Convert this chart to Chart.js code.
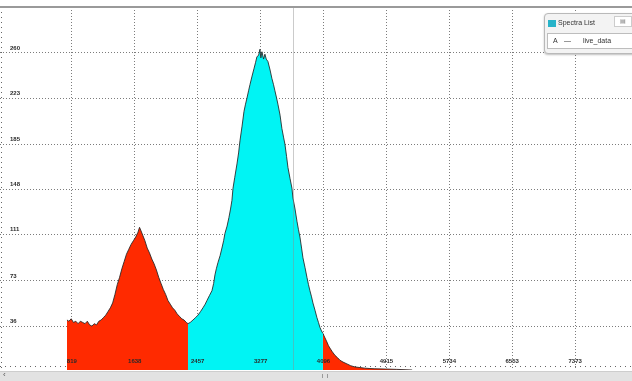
<!DOCTYPE html>
<html>
<head>
<meta charset="utf-8">
<script src="https://cdn.jsdelivr.net/npm/chart.js@4.4.1/dist/chart.umd.min.js"></script>
<style>
  html, body { margin: 0; padding: 0; background: #fff; }
  #wrap { position: relative; width: 632px; height: 381px; overflow: hidden; font-family: "Liberation Sans", Arial, sans-serif; }
  #chart { position: absolute; left: 0; top: 0; }
  .topline { position: absolute; left: 0; top: 6px; width: 632px; height: 2px; background: #9a9a9a; }
  .scroll { position: absolute; left: 0; top: 371px; width: 632px; height: 10px; background: #e2e2e2; border-top: 1px solid #cdcdcd; box-sizing: border-box; }
  .scroll .arrow { position: absolute; left: 3px; top: -2px; font-size: 8px; color: #555; }
  .scroll .notch { position: absolute; left: 322px; top: 2px; width: 4px; height: 4px; border-left: 1px solid #999; border-right: 1px solid #999; }
  .panel { position: absolute; left: 544px; top: 13px; width: 100px; height: 39px; background: #f3f3f3; border: 1px solid #b9b9b9; border-radius: 4px; box-shadow: 0 1px 2px rgba(0,0,0,0.25); }
  .panel .icon { position: absolute; left: 3px; top: 6px; width: 8px; height: 7px; background: #27b3c9; }
  .panel .title { position: absolute; left: 13px; top: 5px; font-size: 7px; color: #333; }
  .panel .btn { position: absolute; left: 69px; top: 2px; width: 16px; height: 9px; background: #fff; border: 1px solid #ccc; font-size: 6px; color: #777; text-align: center; line-height: 9px; }
  .panel .row { position: absolute; left: 2px; top: 19px; width: 96px; height: 14px; background: #fff; border: 1px solid #bdbdbd; font-size: 7px; color: #333; }
  .panel .row span { position: absolute; top: 3px; }
</style>
</head>
<body>
<div id="wrap">
  <canvas id="chart" width="632" height="381"></canvas>
  <div class="topline"></div>
  <div class="scroll"><span class="arrow">&#8249;</span><span class="notch"></span></div>
  <div class="panel">
    <div class="icon"></div>
    <div class="title">Spectra List</div>
    <div class="btn">&#9636;</div>
    <div class="row"><span style="left:5px">A</span><span style="left:16px">&#8212;</span><span style="left:35px">live_data</span></div>
  </div>
</div>
<script>
// spectrum (channel, counts)
const channels = [
  755, 780, 810, 840, 870, 900, 930, 960, 990, 1020, 1050, 1080, 1110, 1140, 1170,
  1200, 1230, 1260, 1290, 1320, 1350, 1380, 1410, 1440, 1470, 1500, 1530, 1560, 1590,
  1620, 1650, 1680, 1700, 1720, 1745, 1770, 1800, 1830, 1860, 1890, 1920, 1950, 1980,
  2010, 2040, 2070, 2100, 2130, 2160, 2190, 2220, 2250, 2280, 2310, 2331,
  2360, 2396, 2430, 2461, 2495, 2526, 2555, 2578, 2610, 2643, 2665, 2682, 2700, 2721,
  2750, 2773, 2795, 2812, 2840, 2864, 2885, 2903, 2917, 2940, 2969, 2990, 3008, 3035,
  3060, 3080, 3099, 3120, 3138, 3165, 3190, 3210, 3229, 3250, 3268, 3280, 3294, 3315,
  3333, 3350, 3372, 3400, 3424, 3445, 3463, 3485, 3502, 3530, 3554, 3575, 3594, 3615,
  3633, 3660, 3685, 3698, 3725, 3750, 3770, 3789, 3810, 3828, 3855, 3880, 3900, 3919,
  3940, 3958, 3985, 4010, 4030, 4049, 4070, 4088,
  4110, 4140, 4160, 4179, 4210, 4245, 4280, 4310, 4350, 4401, 4450, 4505, 4570, 4635,
  4700, 4765, 4900, 5050, 5250
];
const counts = [
  41, 40, 42, 39, 40, 38, 40, 39, 38, 40, 37, 36, 38, 37, 40,
  41, 43, 45, 48, 51, 55, 62, 70, 76, 83, 89, 95, 99, 103,
  106, 109, 113, 117, 114, 110, 106, 100, 96, 91, 87, 82, 76, 71,
  66, 62, 57, 54, 51, 49, 46, 44, 42, 41, 39, 38,
  39, 41, 43, 45, 48, 51, 54, 57, 61, 65, 71, 78, 83, 88,
  94, 100, 106, 112, 118, 125, 132, 139, 149, 158, 169, 178, 188, 200,
  212, 218, 223, 229, 234, 241, 247, 252, 257, 258, 263, 256, 261, 255,
  259, 255, 253, 246, 239, 234, 229, 223, 218, 209, 198, 191, 185, 175,
  166, 157, 149, 141, 132, 122, 115, 109, 100, 92, 84, 76, 70, 65,
  60, 55, 49, 43, 39, 35, 32, 30,
  27, 23, 20, 18, 15, 12, 10, 8, 6.5, 5, 3.5, 2.5, 2, 1.5,
  1.2, 1, 0.8, 0.5, 0
];
// region of interest borders (channels)
const roiStart = 2331;
const roiEnd = 4088;
const xTicks = [819, 1638, 2457, 3277, 4096, 4915, 5734, 6553, 7373];
const yTicks = [36, 73, 111, 148, 185, 223, 260];
const cursorChannel = 3698;

const points = channels.map((c, i) => ({ x: c, y: counts[i] }));
const left = points.filter(p => p.x <= roiStart);
const roi = points.filter(p => p.x >= roiStart && p.x <= roiEnd);
const right = points.filter(p => p.x >= roiEnd);

const outline = 'rgba(35,35,35,0.85)';
const mkSet = (data, color) => ({
  data: data,
  backgroundColor: color,
  borderColor: outline,
  borderWidth: 1,
  fill: 'origin',
  pointRadius: 0,
  tension: 0
});

const tickFont = { family: 'Liberation Sans', size: 6, weight: 'bold' };

// minor tick dots along the bottom and left edges, under the spectrum
const minorPlugin = {
  id: 'minor',
  beforeDatasetsDraw(chart) {
    const { ctx, chartArea } = chart;
    ctx.save();
    ctx.strokeStyle = '#666';
    ctx.lineWidth = 1;
    ctx.setLineDash([1, 4]);
    ctx.beginPath();
    ctx.moveTo(chartArea.left, chartArea.bottom - 3.5);
    ctx.lineTo(chartArea.right, chartArea.bottom - 3.5);
    ctx.moveTo(1.5, chartArea.top);
    ctx.lineTo(1.5, chartArea.bottom);
    ctx.stroke();
    ctx.restore();
  }
};

// cursor line and x labels drawn inside the plot, like the original viewer
const overlayPlugin = {
  id: 'overlay',
  afterDatasetsDraw(chart) {
    const { ctx, chartArea, scales } = chart;
    const px = Math.round(scales.x.getPixelForValue(cursorChannel)) + 0.5;
    ctx.save();
    ctx.strokeStyle = 'rgba(140,140,140,0.45)';
    ctx.lineWidth = 1;
    ctx.beginPath();
    ctx.moveTo(px, chartArea.top);
    ctx.lineTo(px, chartArea.bottom);
    ctx.stroke();
    ctx.font = `${tickFont.weight} ${tickFont.size}px ${tickFont.family}`;
    ctx.fillStyle = '#2a2a2a';
    ctx.textAlign = 'center';
    ctx.textBaseline = 'middle';
    xTicks.forEach(v => ctx.fillText(String(v), scales.x.getPixelForValue(v), chartArea.bottom - 9));
    ctx.restore();
  }
};

const noRoom = s => {
  if (s.isHorizontal()) s.height = 0; else s.width = 0;
  s.paddingTop = s.paddingBottom = s.paddingLeft = s.paddingRight = 0;
};

new Chart(document.getElementById('chart'), {
  type: 'line',
  data: {
    datasets: [mkSet(left, '#ff2a00'), mkSet(roi, '#00f4f4'), mkSet(right, '#ff2a00')]
  },
  options: {
    responsive: false,
    animation: false,
    layout: { padding: { top: 7, bottom: 11, left: 0, right: 0 } },
    plugins: { legend: { display: false }, tooltip: { enabled: false } },
    scales: {
      x: {
        type: 'linear',
        min: -117,
        max: 8113,
        z: 1,
        afterBuildTicks: s => { s.ticks = xTicks.map(v => ({ value: v })); },
        afterFit: noRoom,
        grid: { color: '#7c7c7c', drawTicks: false },
        border: { display: false, dash: [1, 2] },
        ticks: { display: false }
      },
      y: {
        min: 0,
        max: 297.7,
        z: 1,
        afterBuildTicks: s => { s.ticks = yTicks.map(v => ({ value: v })); },
        afterFit: noRoom,
        grid: { color: '#7c7c7c', drawTicks: false },
        border: { display: false, dash: [1, 2] },
        ticks: {
          mirror: true, padding: 10, labelOffset: -5,
          font: tickFont, color: '#2a2a2a',
          callback: v => String(v)
        }
      }
    }
  },
  plugins: [minorPlugin, overlayPlugin]
});
</script>
</body>
</html>
